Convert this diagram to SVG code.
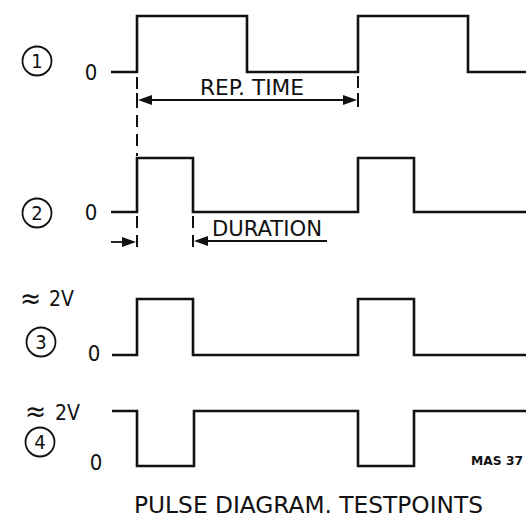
<svg xmlns="http://www.w3.org/2000/svg" width="531" height="523" viewBox="0 0 531 523">
<defs>
<style>
.w{fill:none;stroke:#111;stroke-width:2.6;stroke-linejoin:miter}
.d{fill:none;stroke:#111;stroke-width:2;stroke-dasharray:12 7}
.t{fill:#111;font-family:"DejaVu Sans Condensed","DejaVu Sans","Liberation Sans",sans-serif}
.c{fill:none;stroke:#111;stroke-width:1.8}
.a{fill:#111}
.l{stroke:#111;stroke-width:1.8}
</style>
</defs>
<rect width="531" height="523" fill="#fff"/>
<g id="wave1">
<circle class="c" cx="37" cy="61" r="14.5"/>
<text class="t" x="37" y="68" font-size="20" text-anchor="middle">1</text>
<text class="t" x="91" y="80" font-size="22" text-anchor="middle">0</text>
<path class="w" d="M111,72 H137 V16 H247 V72 H358 V16 H468 V72 H526"/>
</g>
<g id="wave2">
<circle class="c" cx="37" cy="213" r="14.5"/>
<text class="t" x="37" y="220" font-size="20" text-anchor="middle">2</text>
<text class="t" x="91" y="220" font-size="22" text-anchor="middle">0</text>
<path class="w" d="M111,212 H137 V158 H193 V212 H358 V158 H414 V212 H526"/>
</g>
<g id="wave3">
<text class="t" x="20" y="308" font-size="28">≈</text>
<text class="t" x="49" y="306" font-size="21">2V</text>
<circle class="c" cx="41" cy="342" r="14.5"/>
<text class="t" x="41" y="349" font-size="20" text-anchor="middle">3</text>
<text class="t" x="94" y="361" font-size="22" text-anchor="middle">0</text>
<path class="w" d="M112,355 H137 V299 H193 V355 H358 V299 H414 V355 H526"/>
</g>
<g id="wave4">
<text class="t" x="25" y="421" font-size="28">≈</text>
<text class="t" x="55" y="420" font-size="21">2V</text>
<circle class="c" cx="40" cy="442" r="14.5"/>
<text class="t" x="40" y="449" font-size="20" text-anchor="middle">4</text>
<text class="t" x="96" y="470" font-size="22" text-anchor="middle">0</text>
<path class="w" d="M112,411 H137 V466 H194 V411 H358 V466 H414 V411 H526"/>
</g>
<g id="connectors">
<line class="d" x1="137" y1="77" x2="137" y2="156"/>
<line x1="358" y1="76" x2="358" y2="108" stroke="#111" stroke-width="2" stroke-dasharray="12 6"/>
<line class="l" x1="150" y1="100" x2="346" y2="100"/>
<path class="a" d="M138,100 L152,95 L152,105 Z"/>
<path class="a" d="M357,100 L343,95 L343,105 Z"/>
<line x1="137" y1="93" x2="137" y2="107" stroke="#111" stroke-width="2"/>
<line x1="358" y1="93" x2="358" y2="107" stroke="#111" stroke-width="2"/>
<line class="d" x1="137" y1="216" x2="137" y2="252" stroke-dasharray="10 8"/>
<line class="d" x1="193" y1="216" x2="193" y2="252" stroke-dasharray="10 8"/>
<line class="l" x1="111" y1="242" x2="126" y2="242"/>
<path class="a" d="M136,242 L122,237 L122,247 Z"/>
<line class="l" x1="327" y1="241" x2="204" y2="241"/>
<path class="a" d="M194,241 L208,236 L208,246 Z"/>
</g>
<g id="labels">
<text class="t" x="200" y="95" font-size="21" textLength="104" lengthAdjust="spacingAndGlyphs">REP. TIME</text>
<text class="t" x="212" y="236" font-size="21" textLength="110" lengthAdjust="spacingAndGlyphs">DURATION</text>
<text class="t" x="471" y="465" font-size="13" font-weight="bold" textLength="52" lengthAdjust="spacingAndGlyphs">MAS 37</text>
<text class="t" x="134" y="513" font-size="23" textLength="349" lengthAdjust="spacingAndGlyphs">PULSE  DIAGRAM. TESTPOINTS</text>
</g>
</svg>
